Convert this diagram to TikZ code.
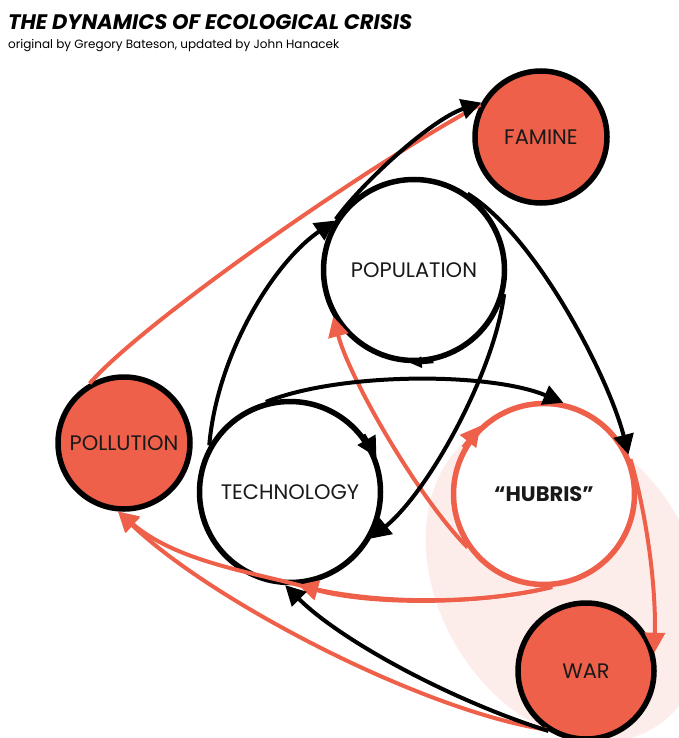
\documentclass[tikz,border=0pt]{standalone}
\usepackage{fontspec}
\setmainfont{Poppins}
\usepackage{tikz}
\usepackage{xcolor}
\usetikzlibrary{arrows.meta}
\definecolor{coral}{RGB}{239,96,74}
\definecolor{blush}{RGB}{252,237,235}

\begin{document}
\begin{tikzpicture}
  [x=1pt,y=-1pt,
   bubble/.style={circle,draw,line width=5.5pt,text=black!90,inner sep=0pt,
     font=\fontsize{21}{21}\selectfont},
   big/.style={bubble,minimum size=181pt,fill=white},
   hot/.style={bubble,minimum size=132pt,fill=coral},
   blk/.style={line width=4pt,-{Triangle[length=20pt,width=20pt]}},
   redarrow/.style={coral,line width=4pt,-{Triangle[length=20pt,width=20pt]}},
   redline/.style={coral,line width=4pt},
   tiny/.style={line width=4pt,-{Triangle[length=11pt,width=11pt]}}]
  \useasboundingbox (0,0) rectangle (679,738);

  % shaded zone round hubris and war
  \fill[blush,rotate around={-60:(566,580)}] (566,580) ellipse [x radius=172pt, y radius=128pt];

  % title
  \node[anchor=base west,inner sep=0pt] (title) at (8,30)
    {\fontsize{21}{21}\selectfont\bfseries\itshape THE DYNAMICS OF ECOLOGICAL CRISIS};
  \node[anchor=base west,inner sep=0pt] (sub) at (8,49)
    {\fontsize{12}{14}\selectfont original by Gregory Bateson, updated by John Hanacek};

  % circles
  \node[hot] (famine) at (541,137) {FAMINE};
  \node[big] (pop) at (414,270) {POPULATION};
  \node[hot] (pollution) at (124,443) {POLLUTION};
  \node[big] (tech) at (290,492) {TECHNOLOGY};
  \node[big,draw=coral,font=\fontsize{21}{21}\selectfont\bfseries] (hubris) at (544,494) {``HUBRIS''};
  \node[hot,minimum size=136pt] (war) at (586,671) {WAR};

  % red links
  \draw[redline] (pollution.120) .. controls (140,325) and (360,170) .. (famine.152);
  \draw[redarrow] (hubris.215) .. controls (420,500) and (350,380) .. (pop.210);
  \draw[redarrow] (hubris.-85) .. controls (480,605) and (370,605) .. (tech.-85);
  \draw[redarrow] (hubris.-85) .. controls (480,605) and (370,605) .. (tech.-85)
    .. controls (245,571) and (175,560) .. (pollution.-95);
  \draw[redarrow] (war.236) .. controls (420,710) and (210,600) .. (pollution.-95);
  \draw[redarrow] (hubris.22) .. controls (648,520) and (656,590) .. (war.15);

  % black links
  \draw[blk] (tech.150) .. controls (217,355) and (273,263) .. (pop.148);
  \draw[blk] (pop.147) .. controls (360,185) and (430,120) .. (famine.150);
  \draw[blk] (pop.55) .. controls (535,235) and (608,375) .. (hubris.25);
  \draw[blk] (pop.-15) .. controls (495,370) and (430,490) .. (tech.-30);
  \draw[blk] (tech.105) .. controls (340,372) and (490,372) .. (hubris.78);
  \draw[blk] (war.238) .. controls (450,700) and (340,640) .. (tech.-93);

  % loops on the circles
  \draw[blk] (tech.38) -- (tech.22);
  \draw[tiny] (pop.-78) -- (pop.-92);
  \draw[redarrow] (hubris.150) -- (hubris.133);
\end{tikzpicture}
\end{document}
